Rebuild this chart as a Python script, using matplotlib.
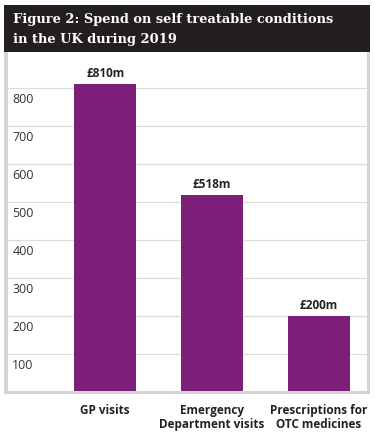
import matplotlib.pyplot as plt
from matplotlib.patches import Rectangle
from matplotlib.transforms import blended_transform_factory

plt.switch_backend('Agg')

# Datos
categorias = ['GP visits', 'Emergency\nDepartment visits', 'Prescriptions for\nOTC medicines']
valores = [810, 518, 200]
etiquetas = ['£810m', '£518m', '£200m']
ticks_y = [100, 200, 300, 400, 500, 600, 700, 800]
titulo = ['Figure 2: Spend on self treatable conditions', 'in the UK during 2019']

W, H = 375, 441
fig = plt.figure(figsize=(W / 100, H / 100), dpi=100)
fig.patch.set_facecolor('white')

def fx(px):
    return px / W

def fy(py):
    return 1 - py / H

# Caja del titulo
fig.patches.append(Rectangle((fx(4), fy(52)), fx(370) - fx(4), fy(5) - fy(52),
                             transform=fig.transFigure, facecolor='#231f20',
                             edgecolor='none', zorder=0))
for linea, py in zip(titulo, [20, 39]):
    fig.text(fx(13), fy(py), linea, color='white', fontsize=9.4, fontweight='bold',
             family='DejaVu Serif', va='center', ha='left')

# Marco gris
gris = '#d4d4d4'
fig.patches.append(Rectangle((fx(4), fy(394)), fx(4), fy(52) - fy(394),
                             transform=fig.transFigure, facecolor=gris, edgecolor='none'))
fig.patches.append(Rectangle((fx(367), fy(394)), fx(3), fy(52) - fy(394),
                             transform=fig.transFigure, facecolor=gris, edgecolor='none'))
fig.patches.append(Rectangle((fx(4), fy(394)), fx(370) - fx(4), fy(391) - fy(394),
                             transform=fig.transFigure, facecolor=gris, edgecolor='none'))

ax = fig.add_axes([fx(8), fy(392), fx(367) - fx(8), fy(52) - fy(392)])
ax.set_facecolor('none')
x = list(range(len(valores)))
ax.bar(x, valores, width=0.58, color='#7b1f79', zorder=3)
ax.set_xlim(-0.911, 2.45)
ax.set_ylim(0, 895)

for y in ticks_y:
    ax.axhline(y, color='#dcdcdc', linewidth=0.9, zorder=1)

trans = blended_transform_factory(ax.transAxes, ax.transData)
for y in ticks_y:
    ax.text(0.012, y - 13, str(y), transform=trans, ha='left', va='top',
            fontsize=9, family='Open Sans', color='#333333')

for xi, v, lab in zip(x, valores, etiquetas):
    ax.text(xi, v + 10, lab, ha='center', va='bottom', fontsize=8.5,
            fontweight='bold', family='Open Sans', color='#222222')

for xi, cat in zip(x, categorias):
    ax.text(xi, -32, cat, ha='center', va='top', fontsize=8.5, fontweight='bold',
            family='Open Sans', color='#222222', linespacing=1.1)

ax.set_xticks([])
ax.set_yticks([])
for s in ax.spines.values():
    s.set_visible(False)

plt.savefig('out.png', dpi=100)
plt.close()
